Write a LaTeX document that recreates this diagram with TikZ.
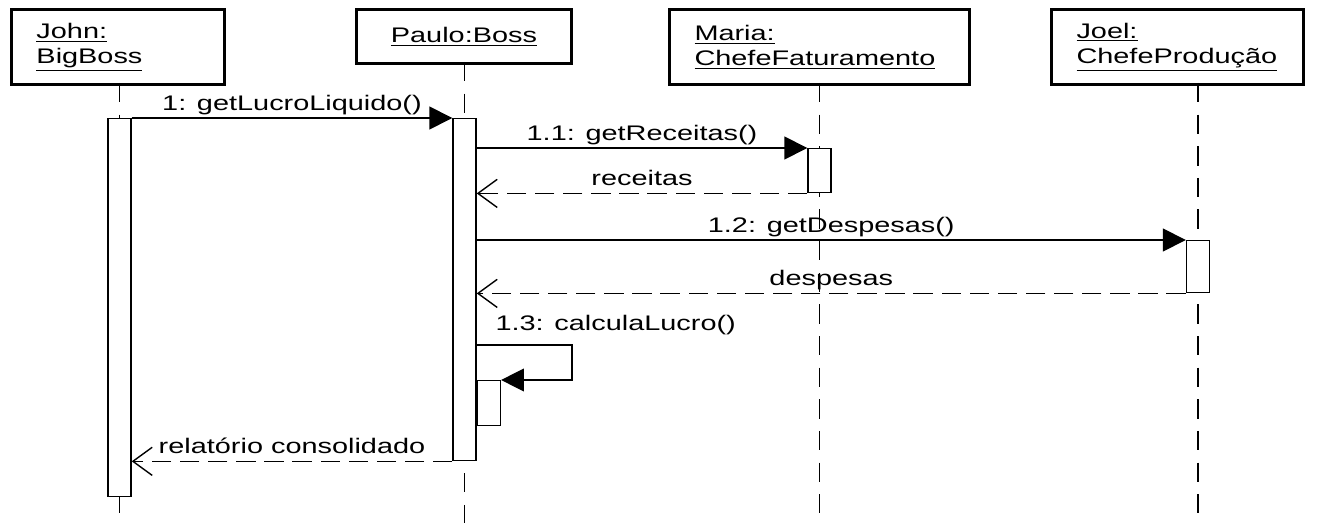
\documentclass[tikz,border=0pt]{standalone}
\usepackage{fontspec}
\setmainfont{Liberation Sans}[FakeStretch=1.37]
\usetikzlibrary{arrows.meta}
\begin{document}
\begin{tikzpicture} [
        x=0.02cm, y=-0.02cm,
        font=\fontsize{12}{14.2}\selectfont,
        object/.style={draw, rectangle, line width=1.7pt, inner xsep=0.5cm, inner ysep=0pt, minimum height=1.5cm, anchor=north west, align=left},
        activation/.style={draw, rectangle, fill=white, line width=0.8pt, minimum width=0.46cm, anchor=north, inner sep=0pt},
        lifeline/.style={line width=1pt, dash pattern=on 11pt off 7pt},
        call/.style={line width=0.8pt, -{Triangle[length=13pt,width=13pt]}},
        reply/.style={line width=0.8pt, dash pattern=on 11pt off 5pt, -{Straight Barb[length=11pt,width=16pt]}},
        msg/.style={above, inner ysep=4pt, text depth=0pt} ]
    \useasboundingbox (0,0) rectangle (1337,523);
    \node[object, text width=3.26cm] (john) at (10,8) {\underline{John:}\\\underline{BigBoss}};
    \node[object, text width=3.3cm, minimum height=1.08cm, align=center] (paulo) at (355,8) {\underline{Paulo:Boss}};
    \node[object, text width=5cm] (maria) at (668,8) {\underline{Maria:}\\\underline{ChefeFaturamento}};
    \node[object, text width=4.04cm] (joel) at (1050,8) {\underline{Joel:}\\\underline{ChefeProdução}};
    % lifelines
    \draw[lifeline] (119.5,83) -- (119.5,523);
    \draw[lifeline] (464.5,62) -- (464.5,523);
    \draw[lifeline] (819.5,83) -- (819.5,523);
    \draw[lifeline] (1198,83) -- (1198,523);
    % activations
    \node[activation, minimum height=7.56cm] (ja) at (119.5,118) {};
    \node[activation, minimum height=6.84cm] (pa) at (464.5,118) {};
    \node[activation, minimum height=0.88cm] (ma) at (819.5,148) {};
    \node[activation, minimum height=1.04cm] (jo) at (1198,240) {};
    \node[activation, anchor=north west, minimum height=0.9cm] (pself) at (pa.east |- 0,380) {};
    % messages
    \draw[call] (ja.north east) -- node[msg] {1: getLucroLiquido()} (pa.north west);
    \draw[call] (pa.east |- ma.north) -- node[msg] {1.1: getReceitas()} (ma.north west);
    \draw[reply] (ma.south west) -- node[msg] {receitas} (pa.east |- ma.south);
    \draw[call] (pa.east |- jo.north) -- node[msg] {1.2: getDespesas()} (jo.north west);
    \draw[reply] (jo.south west) -- node[msg] {despesas} (pa.east |- jo.south);
    \draw[call] (pa.east |- 0,345) node[anchor=base west, xshift=7pt, yshift=8.5pt] {1.3: calculaLucro()} -| (572,380) -- (pself.north east);
    \draw[reply] (pa.south west) -- node[msg] {relatório consolidado} (ja.east |- pa.south);
\end{tikzpicture}
\end{document}
